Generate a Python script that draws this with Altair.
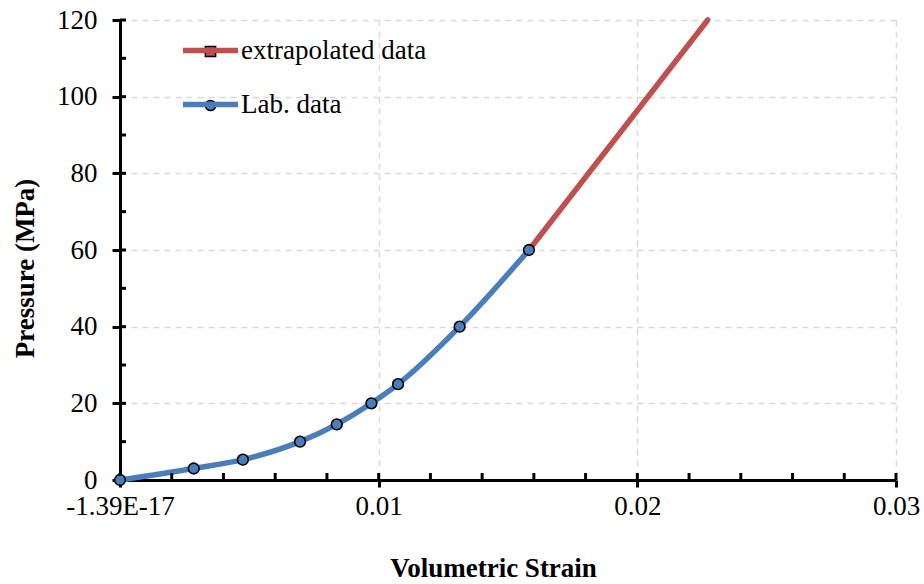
import altair as alt
import pandas as pd

# ---- data ----
lab_strain = [0.0, 0.00285, 0.00475, 0.00696, 0.00838, 0.00972, 0.01075, 0.01313, 0.01581]
lab_pressure = [0.0, 3.0, 5.3, 10.0, 14.5, 20.0, 25.0, 40.0, 60.0]
ext_strain = [0.01581, 0.02272]
ext_pressure = [60.0, 120.0]

series_names = ["extrapolated data", "Lab. data"]
series_colors = ["#c0504d", "#4a7ebb"]
series_shapes = ["square", "circle"]

x_major = [0.0, 0.01, 0.02, 0.03]
x_minor = [0.0, 0.002, 0.004, 0.006, 0.008, 0.01, 0.012, 0.014, 0.016, 0.018,
           0.02, 0.022, 0.024, 0.026, 0.028, 0.03]
y_major = [0, 20, 40, 60, 80, 100, 120]
y_minor = [0, 10, 20, 30, 40, 50, 60, 70, 80, 90, 100, 110, 120]

W, H = 776, 460
FONT = "Liberation Serif"
FS = 27

df_lines = pd.DataFrame({
    "series": [series_names[0]] * len(ext_strain) + [series_names[1]] * len(lab_strain),
    "strain": ext_strain + lab_strain,
    "pressure": ext_pressure + lab_pressure,
})
df_points = pd.DataFrame({
    "series": [series_names[1]] * len(lab_strain),
    "strain": lab_strain,
    "pressure": lab_pressure,
})

xscale = alt.Scale(domain=[0, 0.03], nice=False, zero=False)
yscale = alt.Scale(domain=[0, 120], nice=False, zero=False)

x_axis = alt.Axis(
    values=x_major,
    labelExpr="datum.value < 0.005 ? '-1.39E-17' : format(datum.value, '.2f')",
    title="Volumetric Strain",
    labelFont=FONT, labelFontSize=FS, labelColor="black", labelPadding=6,
    titleFont=FONT, titleFontSize=FS, titleFontWeight="bold", titleColor="black",
    titleX=373, titleY=88, titleBaseline="middle", titleAlign="center",
    tickSize=7, tickWidth=3, tickColor="black",
    domainColor="black", domainWidth=3,
    grid=True, gridColor="#d9d9d9", gridDash=[6, 5], gridWidth=1.5,
    labelFlush=False,
)
y_axis = alt.Axis(
    values=y_major,
    title="Pressure (MPa)",
    labelFont=FONT, labelFontSize=FS, labelColor="black", labelPadding=15,
    titleFont=FONT, titleFontSize=FS, titleFontWeight="bold", titleColor="black",
    titleX=-95, titleY=248, titleBaseline="middle", titleAlign="center", titleAngle=270,
    tickSize=8, tickWidth=3, tickColor="black",
    domainColor="black", domainWidth=3,
    grid=True, gridColor="#d9d9d9", gridDash=[6, 5], gridWidth=1.5,
)

lines = alt.Chart(df_lines).mark_line(strokeWidth=5.5, interpolate="monotone", strokeCap="round").encode(
    x=alt.X("strain:Q", scale=xscale, axis=x_axis),
    y=alt.Y("pressure:Q", scale=yscale, axis=y_axis),
    stroke=alt.Stroke(
        "series:N",
        scale=alt.Scale(domain=series_names, range=series_colors),
        legend=alt.Legend(
            orient="none", legendX=60, legendY=0, title=None,
            symbolType="stroke", symbolSize=3025, symbolStrokeWidth=5.5,
            labelFont=FONT, labelFontSize=FS, labelColor="black", labelOffset=0,
            labelLimit=400, rowPadding=10, padding=0,
        ),
    ),
    detail="series:N",
)

points = alt.Chart(df_points).mark_point(filled=True, size=115, stroke="black", strokeWidth=1.6, opacity=1).encode(
    x=alt.X("strain:Q", scale=xscale),
    y=alt.Y("pressure:Q", scale=yscale),
    fill=alt.Fill(
        "series:N",
        scale=alt.Scale(domain=series_names, range=series_colors),
        legend=alt.Legend(
            orient="none", legendX=77, legendY=18, title=None,
            symbolSize=105, symbolStrokeColor="black", symbolStrokeWidth=1.5,
            labelFont=FONT, labelFontSize=FS, labelColor="rgba(0,0,0,0)", labelOffset=3,
            labelLimit=400, rowPadding=26, padding=0,
        ),
    ),
    shape=alt.Shape("series:N", scale=alt.Scale(domain=series_names, range=series_shapes)),
)

xt = alt.Chart(pd.DataFrame({"t": x_minor})).mark_rule(color="black", strokeWidth=3).encode(
    x=alt.X("t:Q", scale=xscale),
    y=alt.value(H),
    y2=alt.value(H - 7),
)
yt = alt.Chart(pd.DataFrame({"t": y_minor})).mark_rule(color="black", strokeWidth=3).encode(
    y=alt.Y("t:Q", scale=yscale),
    x=alt.value(0),
    x2=alt.value(6),
)

chart = alt.layer(lines, xt, yt, points).resolve_legend(stroke="independent").properties(
    width=W, height=H,
    autosize=alt.AutoSizeParams(type="none"),
    padding={"left": 120, "top": 20, "right": 28, "bottom": 104},
    background="white",
).configure_view(stroke=None)

chart.save("out.html", embed_options={"renderer": "svg", "actions": False})
